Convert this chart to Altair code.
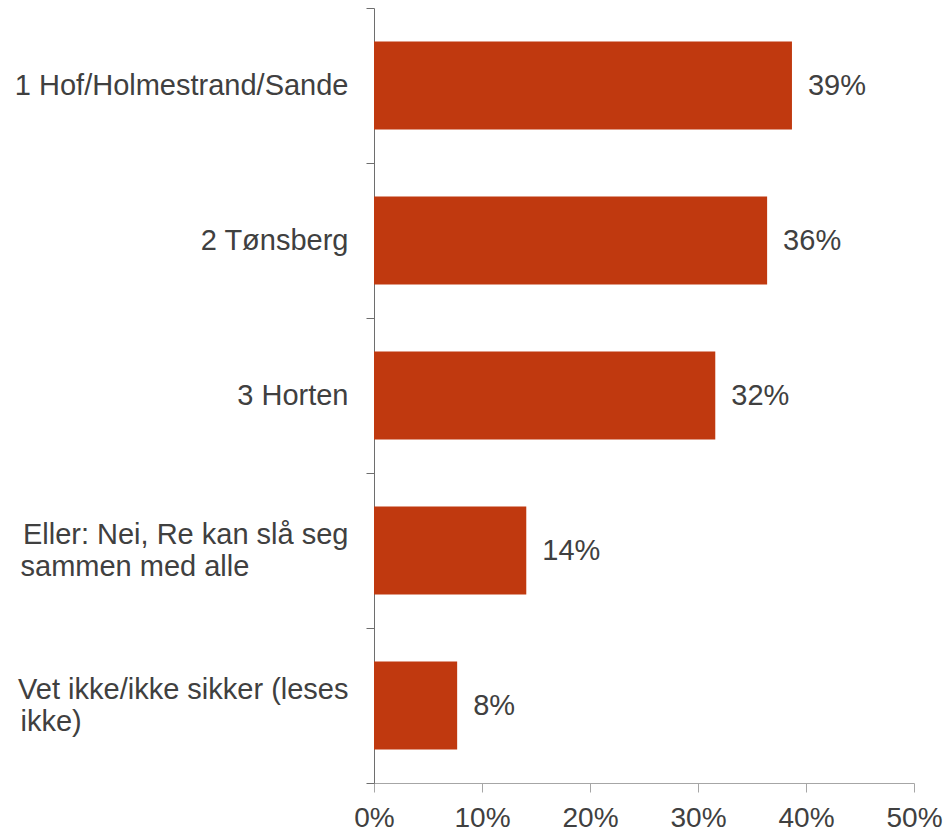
import altair as alt
import pandas as pd

# ---- data ----
label_lines = [
    ["1 Hof/Holmestrand/Sande"],
    ["2 Tønsberg"],
    ["3 Horten"],
    ["Eller: Nei, Re kan slå seg", "sammen med alle"],
    ["Vet ikke/ikke sikker (leses", "ikke)"],
]
values = [0.387, 0.364, 0.316, 0.141, 0.077]
x_ticks = [0, 0.1, 0.2, 0.3, 0.4, 0.5]

keys = ["|".join(lines) for lines in label_lines]
df = pd.DataFrame({"cat": keys, "value": values})

FONT = "Liberation Sans"
TEXT = "#404040"
BAR = "#C0390F"

yscale = alt.Scale(paddingInner=0, paddingOuter=0)
xscale = alt.Scale(domain=[0, 0.5], nice=False)

x_axis = alt.Axis(
    values=x_ticks, format=".0%", title=None, grid=False,
    domainColor="#a6a6a6", tickColor="#a6a6a6", tickSize=9,
    labelFont=FONT, labelFontSize=28, labelColor=TEXT, labelPadding=12,
    labelFlush=False, labelOverlap=False,
)

y_axis_main = alt.Axis(
    title=None, grid=False, domainColor="#6e6e6e", tickColor="#6e6e6e",
    tickSize=8, tickBand="extent",
    labelExpr="isString(datum.value) ? split(datum.value, '|')[0] : ''",
    labelOffset={"condition": {"test": "isString(datum.value) && indexof(datum.value, '|') >= 0",
                               "value": -16}, "value": 0},
    labelFont=FONT, labelFontSize=29, labelColor=TEXT, labelPadding=18,
    labelLimit=500, labelAlign="right", labelBaseline="middle", orient="left",
)

y_axis_second = alt.Axis(
    title=None, grid=False, domain=False, ticks=False,
    labelExpr="isString(datum.value) && indexof(datum.value, '|') >= 0 ? split(datum.value, '|')[1] : ''",
    labelOffset=16,
    labelFont=FONT, labelFontSize=29, labelColor=TEXT, labelPadding=354,
    labelLimit=500, labelAlign="left", labelBaseline="middle", orient="left",
)

base = alt.Chart(df)

bars = base.mark_bar(color=BAR, height=alt.RelativeBandSize(band=0.568)).encode(
    x=alt.X("value:Q", scale=xscale, axis=x_axis),
    y=alt.Y("cat:N", sort=keys, scale=yscale, axis=y_axis_main),
)

labels = base.mark_text(
    align="left", baseline="middle", dx=16, font=FONT, fontSize=29, color=TEXT
).encode(
    x=alt.X("value:Q", scale=xscale, axis=x_axis),
    y=alt.Y("cat:N", sort=keys, scale=yscale, axis=y_axis_second),
    text=alt.Text("value:Q", format=".0%"),
)

chart = (
    alt.layer(bars, labels)
    .resolve_scale(y="shared")
    .resolve_axis(y="independent")
    .properties(
        width=540, height=775,
        autosize=alt.AutoSizeParams(type="none"),
        padding={"left": 374, "top": 8, "right": 33, "bottom": 49},
        background="white",
    )
    .configure_view(stroke=None)
)

chart.save("out.html", embed_options={"renderer": "svg", "actions": False})
